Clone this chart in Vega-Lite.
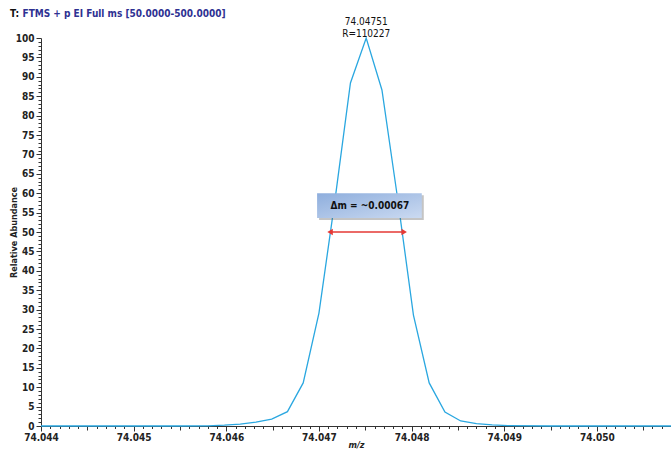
{
  "$schema": "https://vega.github.io/schema/vega-lite/v6.json",
  "width": 630,
  "height": 388,
  "autosize": {"type": "none"},
  "padding": {"left": 41, "top": 38, "right": 0, "bottom": 24},
  "config": {"view": {"stroke": null}, "font": "DejaVu Sans Condensed, Liberation Sans, sans-serif"},
  "title": {
    "text": "T:",
    "subtitle": "\u200b\u00a0\u00a0\u00a0\u00a0FTMS + p EI Full ms [50.0000-500.0000]",
    "anchor": "start",
    "frame": "group",
    "dx": -31,
    "offset": -2,
    "font": "DejaVu Sans Condensed, Liberation Sans, sans-serif",
    "fontSize": 10,
    "fontWeight": "bold",
    "color": "#111111",
    "subtitleFont": "DejaVu Sans Condensed, Liberation Sans, sans-serif",
    "subtitleFontSize": 10,
    "subtitleFontWeight": "bold",
    "subtitleColor": "#2e3192",
    "subtitlePadding": -10
  },
  "datasets": {
    "spectrum": [
      {"mz": 74.0440, "ab": 0},
      {"mz": 74.0450, "ab": 0},
      {"mz": 74.0455, "ab": 0},
      {"mz": 74.0458, "ab": 0.05},
      {"mz": 74.04598, "ab": 0.2},
      {"mz": 74.04615, "ab": 0.5},
      {"mz": 74.04632, "ab": 1.0},
      {"mz": 74.04649, "ab": 1.8},
      {"mz": 74.04666, "ab": 3.7},
      {"mz": 74.04683, "ab": 11.1},
      {"mz": 74.04700, "ab": 29.1},
      {"mz": 74.04717, "ab": 57.7},
      {"mz": 74.04734, "ab": 88.4},
      {"mz": 74.04751, "ab": 100},
      {"mz": 74.04768, "ab": 86.6},
      {"mz": 74.04785, "ab": 58.5},
      {"mz": 74.04802, "ab": 28.6},
      {"mz": 74.04819, "ab": 11.1},
      {"mz": 74.04836, "ab": 3.6},
      {"mz": 74.04853, "ab": 1.3},
      {"mz": 74.04870, "ab": 0.6},
      {"mz": 74.04887, "ab": 0.3},
      {"mz": 74.04904, "ab": 0.1},
      {"mz": 74.0495, "ab": 0},
      {"mz": 74.0508, "ab": 0}
    ],
    "box": [{"x1": 74.04698, "x2": 74.04811, "y1": 53.6, "y2": 60.0}],
    "boxlabel": [{"x": 74.04755, "y": 56.8, "label": "Δm = ~0.00067"}],
    "arrow": [{"x1": 74.04712, "x2": 74.04792, "y": 50}],
    "heads": [
      {"x": 74.04712, "y": 50, "side": "left"},
      {"x": 74.04792, "y": 50, "side": "right"}
    ],
    "peak": [{"mz": 74.04751, "ab": 100, "label": "74.04751\nR=110227"}]
  },
  "layer": [
    {
      "data": {"name": "spectrum"},
      "mark": {"type": "line", "color": "#2aa7e0", "strokeWidth": 1.3},
      "encoding": {
        "x": {
          "field": "mz",
          "type": "quantitative",
          "scale": {"domain": [74.044, 74.0508], "nice": false, "zero": false},
          "axis": {
            "title": "m/z",
            "titleFontStyle": "italic",
            "titleFontWeight": "bold",
            "titleFontSize": 9,
            "titlePadding": -2,
            "titleColor": "#222222",
            "tickCount": 500,
            "values": [74.044, 74.0441, 74.0442, 74.0443, 74.0444, 74.0445, 74.0446, 74.0447, 74.0448, 74.0449,
                       74.045, 74.0451, 74.0452, 74.0453, 74.0454, 74.0455, 74.0456, 74.0457, 74.0458, 74.0459,
                       74.046, 74.0461, 74.0462, 74.0463, 74.0464, 74.0465, 74.0466, 74.0467, 74.0468, 74.0469,
                       74.047, 74.0471, 74.0472, 74.0473, 74.0474, 74.0475, 74.0476, 74.0477, 74.0478, 74.0479,
                       74.048, 74.0481, 74.0482, 74.0483, 74.0484, 74.0485, 74.0486, 74.0487, 74.0488, 74.0489,
                       74.049, 74.0491, 74.0492, 74.0493, 74.0494, 74.0495, 74.0496, 74.0497, 74.0498, 74.0499,
                       74.05, 74.0501, 74.0502, 74.0503, 74.0504, 74.0505, 74.0506, 74.0507, 74.0508],
            "labelExpr": "round(datum.value*10000) % 10 == 0 ? format(datum.value, '.3f') : ''",
            "labelOverlap": false,
            "labelFlush": false,
            "labelBound": false,
            "labelFontSize": 10,
            "labelFontWeight": "bold",
            "labelColor": "#222222",
            "labelPadding": 1,
            "tickSize": {"condition": [
              {"test": "round(datum.value*10000) % 10 == 0", "value": 5},
              {"test": "round(datum.value*10000) % 5 == 0", "value": 4}
            ], "value": 2.5},
            "tickColor": "#333333",
            "domainColor": "#333333",
            "grid": false
          }
        },
        "y": {
          "field": "ab",
          "type": "quantitative",
          "scale": {"domain": [0, 100], "nice": false},
          "axis": {
            "title": "Relative Abundance",
            "titleFontWeight": "bold",
            "titleFontSize": 9,
            "titleColor": "#222222",
            "titlePadding": -3,
            "tickCount": 500,
            "values": [0,1,2,3,4,5,6,7,8,9,10,11,12,13,14,15,16,17,18,19,20,21,22,23,24,25,26,27,28,29,30,31,32,33,34,35,36,37,38,39,40,41,42,43,44,45,46,47,48,49,50,51,52,53,54,55,56,57,58,59,60,61,62,63,64,65,66,67,68,69,70,71,72,73,74,75,76,77,78,79,80,81,82,83,84,85,86,87,88,89,90,91,92,93,94,95,96,97,98,99,100],
            "labelExpr": "datum.value % 5 == 0 ? format(datum.value, 'd') : ''",
            "labelOverlap": false,
            "labelFlush": false,
            "labelBound": false,
            "labelFontSize": 10,
            "labelFontWeight": "bold",
            "labelColor": "#222222",
            "labelPadding": 2,
            "tickSize": {"condition": {"test": "datum.value % 5 == 0", "value": 5}, "value": 3},
            "tickColor": "#333333",
            "domainColor": "#333333",
            "grid": false
          }
        }
      }
    },
    {
      "data": {"name": "box"},
      "mark": {"type": "rect", "color": "#555555", "opacity": 0.35, "xOffset": 2, "x2Offset": 2, "yOffset": 2, "y2Offset": 2},
      "encoding": {
        "x": {"field": "x1", "type": "quantitative"},
        "x2": {"field": "x2"},
        "y": {"field": "y1", "type": "quantitative"},
        "y2": {"field": "y2"}
      }
    },
    {
      "data": {"name": "box"},
      "mark": {
        "type": "rect",
        "color": {"gradient": "linear", "x1": 0, "y1": 0, "x2": 1, "y2": 1,
          "stops": [{"offset": 0, "color": "#8eaedd"}, {"offset": 1, "color": "#cbdaf1"}]},
        "opacity": 1
      },
      "encoding": {
        "x": {"field": "x1", "type": "quantitative"},
        "x2": {"field": "x2"},
        "y": {"field": "y1", "type": "quantitative"},
        "y2": {"field": "y2"}
      }
    },
    {
      "data": {"name": "boxlabel"},
      "mark": {"type": "text", "fontSize": 10, "fontWeight": "bold", "color": "#111111", "align": "center", "baseline": "middle"},
      "encoding": {
        "x": {"field": "x", "type": "quantitative"},
        "y": {"field": "y", "type": "quantitative"},
        "text": {"field": "label"}
      }
    },
    {
      "data": {"name": "arrow"},
      "mark": {"type": "rule", "color": "#e53935", "strokeWidth": 1.5},
      "encoding": {
        "x": {"field": "x1", "type": "quantitative"},
        "x2": {"field": "x2"},
        "y": {"field": "y", "type": "quantitative"}
      }
    },
    {
      "data": {"name": "heads"},
      "mark": {"type": "point", "filled": true, "opacity": 1, "size": 40, "color": "#e53935"},
      "encoding": {
        "x": {"field": "x", "type": "quantitative"},
        "y": {"field": "y", "type": "quantitative"},
        "shape": {"field": "side", "type": "nominal", "scale": {"domain": ["left", "right"], "range": ["triangle-left", "triangle-right"]}, "legend": null},
        "xOffset": {"field": "side", "type": "nominal", "scale": {"domain": ["left", "right"], "range": [3, -3]}}
      }
    },
    {
      "data": {"name": "peak"},
      "mark": {"type": "text", "fontSize": 10, "color": "#111111", "align": "center", "baseline": "bottom", "dy": -11, "lineBreak": "\n", "lineHeight": 12},
      "encoding": {
        "x": {"field": "mz", "type": "quantitative"},
        "y": {"field": "ab", "type": "quantitative"},
        "text": {"field": "label"}
      }
    }
  ]
}
